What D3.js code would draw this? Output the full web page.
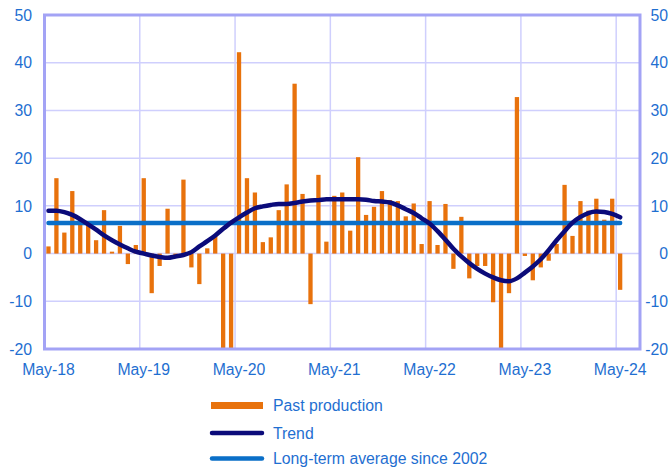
<!DOCTYPE html>
<meta charset="utf-8">
<html>
<head>
  <title>Production</title>
  <script src="https://d3js.org/d3.v7.min.js"></script>
  <style>
    body { margin: 0; background: #fff; }
    text { font-family: Arial, "Liberation Sans", sans-serif; }
  </style>
</head>
<body>
<div id="my_dataviz"></div>

<script>
  // monthly categories, May-18 .. Jul-24 (axis runs two months past the data)
  var months = d3.utcMonth.range(new Date(Date.UTC(2018, 4, 1)), new Date(Date.UTC(2024, 7, 1)));
  var fmt = d3.utcFormat("%b-%y");
  var monthLabels = months.map(function(d) { return fmt(d); });

  var tickLabels = ["May-18", "May-19", "May-20", "May-21", "May-22", "May-23", "May-24"];
  var yTicks = [-20, -10, 0, 10, 20, 30, 40, 50];

  // past production, May-18 .. May-24
  var production = [
    1.5, 15.8, 4.4, 13.1, 7.2, 6.8, 2.8, 9.1, 0.4, 5.8, -2.2, 1.8,
    15.8, -8.3, -2.6, 9.4, -0.5, 15.5, -2.9, -6.4, 1.1, 3.8, -20, -20,
    42.2, 15.8, 12.8, 2.4, 3.4, 9.1, 14.5, 35.6, 12.5, -10.6, 16.5, 2.5,
    12.1, 12.8, 4.8, 20.2, 8.1, 9.8, 13.1, 11.2, 11.0, 7.8, 10.5, 2.0,
    11.0, 1.8, 10.4, -3.2, 7.7, -5.2, -2.6, -2.6, -10.2, -20, -8.3, 32.8,
    -0.5, -5.6, -2.9, -1.5, 2.0, 14.4, 3.7, 11.0, 9.0, 11.5, 7.1, 11.5,
    -7.6
  ];

  // trend, May-18 .. May-24
  var trend = [
    9.0, 9.0, 8.7, 8.1, 7.2, 6.1, 5.0, 3.8, 2.8, 1.9, 1.1, 0.4,
    0.0, -0.4, -0.7, -0.9, -0.6, -0.3, 0.3, 1.5, 2.6, 3.8, 5.2, 6.5,
    7.6, 8.6, 9.5, 9.9, 10.2, 10.4, 10.4, 10.6, 10.9, 11.1, 11.2, 11.4,
    11.4, 11.4, 11.4, 11.4, 11.3, 11.0, 10.9, 10.7, 10.1, 9.3, 8.5, 7.4,
    6.3, 4.7, 2.9, 1.0, -0.6, -2.0, -3.2, -4.2, -5.0, -5.6, -5.8, -5.2,
    -4.0, -2.7, -1.2, 0.7, 2.8, 4.7, 6.5, 7.7, 8.5, 8.8, 8.7, 8.3,
    7.6
  ];

  var longTermAverage = 6.4;

  var seriesNames = ["Past production", "Trend", "Long-term average since 2002"];

  // colours
  var orange = "#E8720C", navy = "#0B0B7A", blue = "#0A6FC8";
  var textColor = "#1F6FD1", axisColor = "#A3A3F5", gridColor = "#CFCFFD";

  var W = 670, H = 471;
  var plot = {left: 44.5, right: 640, top: 15, bottom: 349};

  var svg = d3.select("#my_dataviz")
    .append("svg")
      .attr("width", W)
      .attr("height", H);

  var x = d3.scaleBand()
    .domain(monthLabels)
    .range([plot.left, plot.right])
    .paddingInner(0.46)
    .paddingOuter(0.23);

  var y = d3.scaleLinear()
    .domain([-20, 50])
    .range([plot.bottom, plot.top])
    .clamp(true);

  var cx = function(i) { return x(monthLabels[i]) + x.bandwidth() / 2; };

  // horizontal gridlines
  svg.append("g")
    .selectAll("line")
    .data(yTicks)
    .enter()
    .append("line")
      .attr("x1", plot.left)
      .attr("x2", plot.right)
      .attr("y1", function(d) { return y(d); })
      .attr("y2", function(d) { return y(d); })
      .style("stroke", gridColor)
      .style("stroke-width", 1.5);

  // vertical gridlines at the start of each May
  svg.append("g")
    .selectAll("line")
    .data(tickLabels)
    .enter()
    .append("line")
      .attr("x1", function(d) { return x(d) - x.step() * x.paddingInner() / 2; })
      .attr("x2", function(d) { return x(d) - x.step() * x.paddingInner() / 2; })
      .attr("y1", plot.top)
      .attr("y2", plot.bottom)
      .style("stroke", gridColor)
      .style("stroke-width", 1.5);

  // bars
  svg.append("g")
    .selectAll("rect")
    .data(production)
    .enter()
    .append("rect")
      .attr("x", function(d, i) { return x(monthLabels[i]); })
      .attr("width", x.bandwidth())
      .attr("y", function(d) { return y(Math.max(0, d)); })
      .attr("height", function(d) { return Math.abs(y(d) - y(0)); })
      .style("fill", orange);

  // long-term average
  svg.append("line")
    .attr("x1", cx(0))
    .attr("x2", cx(production.length - 1))
    .attr("y1", y(longTermAverage))
    .attr("y2", y(longTermAverage))
    .style("stroke", blue)
    .style("stroke-width", 4.5)
    .style("stroke-linecap", "round");

  // trend
  var line = d3.line()
    .x(function(d, i) { return cx(i); })
    .y(function(d) { return y(d); })
    .curve(d3.curveMonotoneX);

  svg.append("path")
    .datum(trend)
    .attr("d", line)
    .style("fill", "none")
    .style("stroke", navy)
    .style("stroke-width", 4.5)
    .style("stroke-linecap", "round")
    .style("stroke-linejoin", "round");

  // frame
  svg.append("rect")
    .attr("x", plot.left)
    .attr("y", plot.top)
    .attr("width", plot.right - plot.left)
    .attr("height", plot.bottom - plot.top)
    .style("fill", "none")
    .style("stroke", axisColor)
    .style("stroke-width", 3);

  // left and right y labels
  var yLab = svg.append("g")
    .style("font-size", "15.8px")
    .style("fill", textColor);

  yLab.selectAll(".yl")
    .data(yTicks)
    .enter()
    .append("text")
      .attr("class", "yl")
      .attr("x", 32)
      .attr("y", function(d) { return y(d); })
      .attr("dy", "0.36em")
      .attr("text-anchor", "end")
      .text(function(d) { return d; });

  yLab.selectAll(".yr")
    .data(yTicks)
    .enter()
    .append("text")
      .attr("class", "yr")
      .attr("x", 668)
      .attr("y", function(d) { return y(d); })
      .attr("dy", "0.36em")
      .attr("text-anchor", "end")
      .text(function(d) { return d; });

  // x labels
  svg.append("g")
    .style("font-size", "15.8px")
    .style("fill", textColor)
    .selectAll("text")
    .data(tickLabels)
    .enter()
    .append("text")
      .attr("x", function(d) { return x(d) + x.bandwidth() / 2; })
      .attr("y", 374.5)
      .attr("text-anchor", "middle")
      .text(function(d) { return d; });

  // legend
  var legend = svg.append("g");
  var legY = [405.5, 433, 458.5];

  legend.append("rect")
    .attr("x", 211)
    .attr("y", legY[0] - 3.5)
    .attr("width", 52)
    .attr("height", 7)
    .style("fill", orange);

  [navy, blue].forEach(function(c, k) {
    legend.append("line")
      .attr("x1", 212)
      .attr("x2", 262)
      .attr("y1", legY[k + 1])
      .attr("y2", legY[k + 1])
      .style("stroke", c)
      .style("stroke-width", 4.5)
      .style("stroke-linecap", "round");
  });

  legend.selectAll("text")
    .data(seriesNames)
    .enter()
    .append("text")
      .attr("x", 273)
      .attr("y", function(d, i) { return legY[i]; })
      .attr("dy", "0.36em")
      .style("font-size", "15.8px")
      .style("fill", textColor)
      .text(function(d) { return d; });
</script>
</body>
</html>
